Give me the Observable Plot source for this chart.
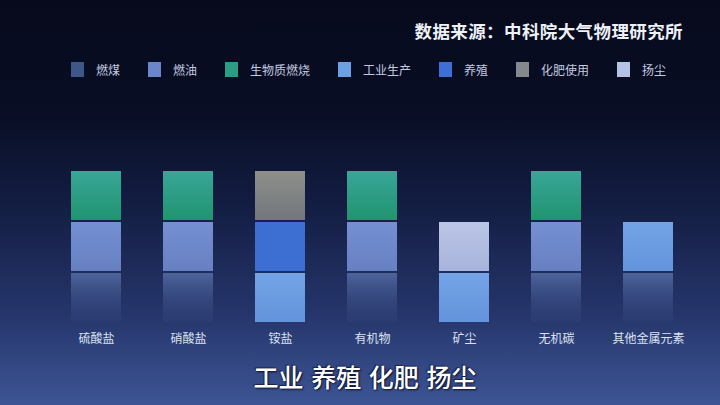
<!DOCTYPE html>
<html>
<head>
<meta charset="utf-8">
<script src="https://cdn.jsdelivr.net/npm/d3@7"></script>
<script src="https://cdn.jsdelivr.net/npm/@observablehq/plot@0.6"></script>
<style>
  html, body { margin: 0; padding: 0; }
  body {
    width: 720px; height: 405px; overflow: hidden;
    font-family: "Noto Sans CJK SC", "Noto Sans", sans-serif;
    background: linear-gradient(to bottom, #070a1c 0%, #090e25 28%, #131d42 50%, #26366c 78%, #3d5595 100%);
  }
  #header { position: relative; height: 100px; }
  #title { position: absolute; right: 37px; top: 18px; color: #eef1f8; font-size: 17.5px; font-weight: 700; letter-spacing: 0.4px; }
  #legend { position: absolute; left: 71px; top: 61px; display: flex; align-items: center; }
  .item { display: flex; align-items: center; margin-right: 28px; }
  .sw { width: 13px; height: 15px; margin-right: 12px; }
  .lab { color: #c4cbe0; font-size: 12px; }
  #caption { height: 50px; text-align: center; color: #ffffff; font-size: 25px; font-weight: 500; line-height: 43px; padding-left: 10px; text-shadow: 1px 1px 2px #0a0f25, -1px -1px 1px #1a2448; word-spacing: 2px; }
</style>
</head>
<body>
<div id="header"><div id="title"></div><div id="legend"></div></div>
<div id="chart"></div>
<div id="caption"></div>
<script>
const titleText = "数据来源：中科院大气物理研究所";
const captionText = "工业 养殖 化肥 扬尘";
const categories = ["硫酸盐", "硝酸盐", "铵盐", "有机物", "矿尘", "无机碳", "其他金属元素"];
const sources = ["燃煤", "燃油", "生物质燃烧", "工业生产", "养殖", "化肥使用", "扬尘"];
const legendColors = ["#3f5688", "#6c86cb", "#2d9c84", "#6d9fe3", "#3d6fd6", "#85888c", "#b6c1e6"];
const barFills = ["url(#g-coal)", "url(#g-oil)", "url(#g-bio)", "url(#g-ind)", "#3d6fd3", "url(#g-fert)", "url(#g-dust)"];
// sources of each category, bottom to top
const stacks = [
  ["燃煤", "燃油", "生物质燃烧"],
  ["燃煤", "燃油", "生物质燃烧"],
  ["工业生产", "养殖", "化肥使用"],
  ["燃煤", "燃油", "生物质燃烧"],
  ["工业生产", "扬尘"],
  ["燃煤", "燃油", "生物质燃烧"],
  ["燃煤", "工业生产"]
];
// relative share of each block (all equal in the picture)
const shares = [
  [1, 1, 1],
  [1, 1, 1],
  [1, 1, 1],
  [1, 1, 1],
  [1, 1],
  [1, 1, 1],
  [1, 1]
];

document.getElementById("title").textContent = titleText;
document.getElementById("caption").textContent = captionText;
const legend = document.getElementById("legend");
sources.forEach((s, i) => {
  const it = document.createElement("div"); it.className = "item";
  const sw = document.createElement("div"); sw.className = "sw"; sw.style.background = legendColors[i];
  const lb = document.createElement("div"); lb.className = "lab"; lb.textContent = s;
  it.append(sw, lb); legend.append(it);
});

const table = [];
categories.forEach((c, i) => stacks[i].forEach((s, j) => table.push({category: c, source: s, value: shares[i][j]})));

function defs() {
  const d = d3.create("svg:defs");
  const grads = [
    ["g-coal", [["0%", "#566ea8", 0.85], ["100%", "#3a4f88", 0.15]]],
    ["g-oil", [["0%", "#7590d2", 1], ["100%", "#6680c2", 1]]],
    ["g-bio", [["0%", "#39a698", 1], ["100%", "#20946f", 1]]],
    ["g-ind", [["0%", "#73a4e6", 1], ["100%", "#6394dc", 1]]],
    ["g-fert", [["0%", "#8d8f8a", 1], ["100%", "#73777d", 1]]],
    ["g-dust", [["0%", "#bbc5e6", 1], ["100%", "#a8b4dc", 1]]]
  ];
  for (const [id, stops] of grads) {
    const g = d.append("linearGradient").attr("id", id).attr("x1", 0).attr("y1", 0).attr("x2", 0).attr("y2", 1);
    for (const [o, c, a] of stops) g.append("stop").attr("offset", o).attr("stop-color", c).attr("stop-opacity", a);
  }
  return d.node();
}

const chart = Plot.plot({
  width: 720,
  height: 255,
  marginLeft: 71,
  marginRight: 47,
  marginTop: 70,
  marginBottom: 32,
  style: {background: "transparent", color: "#dce2f2", fontFamily: "Noto Sans CJK SC, sans-serif", fontSize: "12px"},
  x: {domain: categories, paddingInner: 0.457, paddingOuter: 0, label: null, tickSize: 0, tickPadding: 11},
  y: {domain: [0, 3], axis: null},
  color: {domain: sources, range: barFills},
  marks: [
    defs,
    Plot.barY(table, {x: "category", y: "value", fill: "source", insetTop: 1, insetBottom: 1})
  ]
});
document.getElementById("chart").append(chart);
</script>
</body>
</html>
